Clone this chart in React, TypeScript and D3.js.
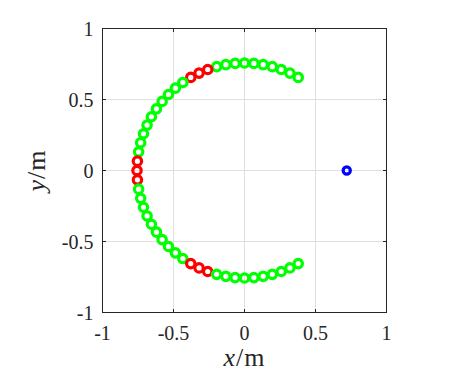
import React from "react";
import * as d3 from "d3";

const arcAnglesDeg: number[] = [60, 65, 70, 75, 80, 85, 90, 95, 100, 105, 110, 115, 120, 125, 130, 135, 140, 145, 150, 155, 160, 165, 170, 175, 180, 185, 190, 195, 200, 205, 210, 215, 220, 225, 230, 235, 240, 245, 250, 255, 260, 265, 270, 275, 280, 285, 290, 295, 300];
const redAnglesDeg: number[] = [110, 115, 120, 175, 180, 185, 240, 245, 250];
const arcRadius = 0.757;
const sourceX: number[] = [0.72];
const sourceY: number[] = [0];
const xTicks: number[] = [-1, -0.5, 0, 0.5, 1];
const yTicks: number[] = [-1, -0.5, 0, 0.5, 1];
const tickLabel = (v: number) => (v === 0 ? "0" : String(v));

export default function App() {
  const W = 473, H = 374;
  const left = 102.5, top = 28.5, size = 284;
  const x = d3.scaleLinear().domain([-1, 1]).range([left, left + size]);
  const y = d3.scaleLinear().domain([-1, 1]).range([top + size, top]);
  const axisColor = "#262626";
  const font = "Liberation Serif";
  const pts = arcAnglesDeg.map((a) => {
    const r = (a * Math.PI) / 180;
    return { x: arcRadius * Math.cos(r), y: arcRadius * Math.sin(r), red: redAnglesDeg.includes(a) };
  });
  const tl = 3.5;
  return (
    <svg width={W} height={H} style={{ position: "absolute", left: 0, top: 0 }}>
      <rect x={0} y={0} width={W} height={H} fill="#fff" />
      {xTicks.map((t) => (
        <line key={"gx" + t} x1={x(t)} x2={x(t)} y1={top} y2={top + size} stroke="#dfdfdf" strokeWidth={1} />
      ))}
      {yTicks.map((t) => (
        <line key={"gy" + t} x1={left} x2={left + size} y1={y(t)} y2={y(t)} stroke="#dfdfdf" strokeWidth={1} />
      ))}
      {xTicks.map((t) => (
        <g key={"tx" + t}>
          <line x1={x(t)} x2={x(t)} y1={top + size} y2={top + size - tl} stroke={axisColor} />
          <line x1={x(t)} x2={x(t)} y1={top} y2={top + tl} stroke={axisColor} />
          <text x={x(t)} y={340} textAnchor="middle" fontFamily={font} fontSize={20} fill={axisColor}>
            {tickLabel(t)}
          </text>
        </g>
      ))}
      {yTicks.map((t) => (
        <g key={"ty" + t}>
          <line x1={left} x2={left + tl} y1={y(t)} y2={y(t)} stroke={axisColor} />
          <line x1={left + size} x2={left + size - tl} y1={y(t)} y2={y(t)} stroke={axisColor} />
          <text x={93.5} y={y(t) + 7.5} textAnchor="end" fontFamily={font} fontSize={20} fill={axisColor}>
            {tickLabel(t)}
          </text>
        </g>
      ))}
      <rect x={left} y={top} width={size} height={size} fill="none" stroke={axisColor} strokeWidth={1} />
      {pts.map((p, i) => (
        <circle key={"p" + i} cx={x(p.x)} cy={y(p.y)} r={4.2} fill="none" stroke={p.red ? "#ff0000" : "#00ff00"} strokeWidth={3.2} />
      ))}
      {sourceX.map((sx, i) => (
        <circle key={"s" + i} cx={x(sx)} cy={y(sourceY[i])} r={3.6} fill="none" stroke="#0000ff" strokeWidth={3.2} />
      ))}
      <text x={x(0)} y={366} textAnchor="middle" fontFamily={font} fontSize={26} fill={axisColor} letterSpacing={1}>
        <tspan fontStyle="italic">x</tspan>
        <tspan>/m</tspan>
      </text>
      <text transform={`translate(45, ${y(0)}) rotate(-90)`} textAnchor="middle" fontFamily={font} fontSize={26} fill={axisColor} letterSpacing={1}>
        <tspan fontStyle="italic">y</tspan>
        <tspan>/m</tspan>
      </text>
    </svg>
  );
}
